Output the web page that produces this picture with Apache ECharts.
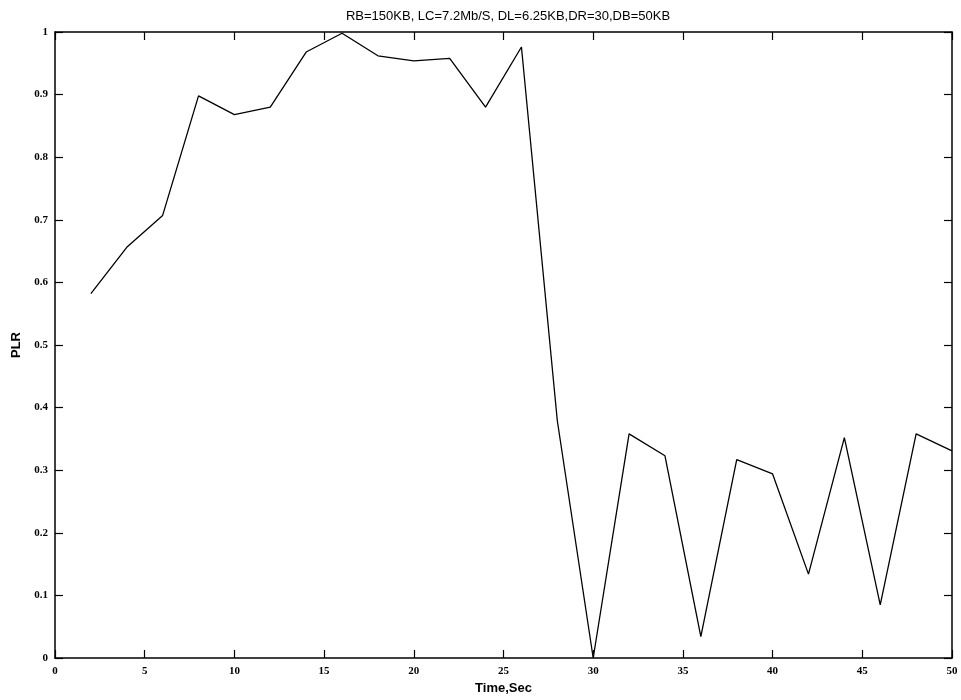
<!DOCTYPE html>
<html>
<head>
<meta charset="utf-8">
<script src="https://cdn.jsdelivr.net/npm/echarts@6/dist/echarts.min.js"></script>
<style>html,body{margin:0;padding:0;background:#fff}#c{width:961px;height:700px}</style>
</head>
<body>
<div id="c"></div>
<script>
const titleText = 'RB=150KB, LC=7.2Mb/S, DL=6.25KB,DR=30,DB=50KB';
const timeSec = [2,4,6,8,10,12,14,16,18,20,22,24,26,28,30,32,34,36,38,40,42,44,46,48,50];
const plr = [0.582,0.656,0.707,0.898,0.868,0.880,0.968,0.998,0.962,0.954,0.958,0.880,0.976,0.379,0.0,0.358,0.323,0.034,0.317,0.294,0.134,0.352,0.085,0.358,0.331];
const xName = 'Time,Sec';
const yName = 'PLR';

const chart = echarts.init(document.getElementById('c'));
const axLine = {show:true, onZero:false, lineStyle:{color:'#000', width:1.5}};
const tick = {show:true, inside:true, length:8, lineStyle:{color:'#000', width:1.2}};
const lbl = {color:'#000', fontFamily:'Liberation Serif', fontWeight:'bold', fontSize:11};
chart.setOption({
  animation:false,
  backgroundColor:'#fff',
  title:{text:titleText, left:503, top:5, textAlign:'center',
    textStyle:{fontFamily:'Liberation Sans', fontSize:13, fontWeight:'normal', color:'#000'}},
  grid:{left:55, right:9, top:32, bottom:42},
  xAxis:[
    {type:'value', min:0, max:50, interval:5, position:'bottom',
     name:xName, nameLocation:'middle', nameGap:24,
     nameTextStyle:{fontFamily:'Liberation Sans', fontWeight:'bold', fontSize:13, color:'#000'},
     axisLine:axLine, axisTick:tick, axisLabel:Object.assign({margin:8}, lbl), splitLine:{show:false}},
    {type:'value', min:0, max:50, interval:5, position:'top',
     axisLine:axLine, axisTick:tick, axisLabel:{show:false}, splitLine:{show:false}}
  ],
  yAxis:[
    {type:'value', min:0, max:1, interval:0.1, position:'left',
     name:yName, nameLocation:'middle', nameGap:30,
     nameTextStyle:{fontFamily:'Liberation Sans', fontWeight:'bold', fontSize:13, color:'#000'},
     axisLine:axLine, axisTick:tick, axisLabel:Object.assign({margin:7, formatter:v=>String(+v.toFixed(1))}, lbl), splitLine:{show:false}},
    {type:'value', min:0, max:1, interval:0.1, position:'right',
     axisLine:axLine, axisTick:tick, axisLabel:{show:false}, splitLine:{show:false}}
  ],
  series:[{
    type:'line', xAxisIndex:0, yAxisIndex:0,
    data: timeSec.map((t,i)=>[t, plr[i]]),
    showSymbol:false, symbol:'none',
    lineStyle:{color:'#000', width:1.3}
  }]
});
</script>
</body>
</html>
